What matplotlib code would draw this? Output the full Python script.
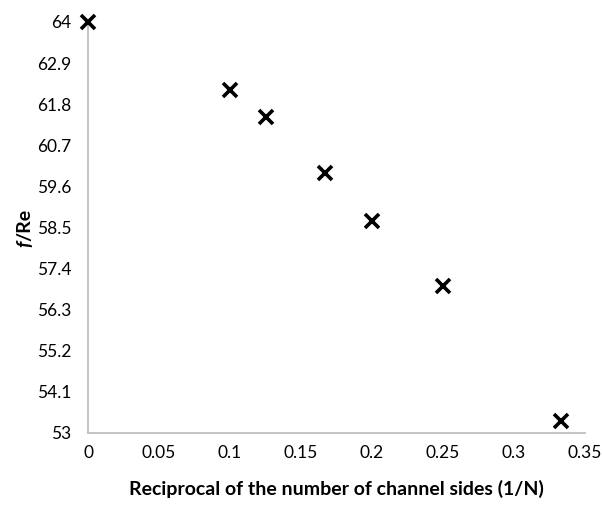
import matplotlib
matplotlib.use("Agg")
import matplotlib.pyplot as plt
import numpy as np

plt.rcParams['font.family'] = ['Lato', 'DejaVu Sans']

x_vals = [0.0, 0.1, 0.125, 1/6, 0.2, 0.25, 1/3]
y_vals = [64.0, 62.18, 61.46, 59.96, 58.67, 56.93, 53.32]
x_ticks = [0, 0.05, 0.1, 0.15, 0.2, 0.25, 0.3, 0.35]
x_tick_labels = ['0', '0.05', '0.1', '0.15', '0.2', '0.25', '0.3', '0.35']
y_ticks = [53, 54.1, 55.2, 56.3, 57.4, 58.5, 59.6, 60.7, 61.8, 62.9, 64]
y_tick_labels = ['53', '54.1', '55.2', '56.3', '57.4', '58.5', '59.6', '60.7', '61.8', '62.9', '64']

fig = plt.figure(figsize=(6.03, 5.07), dpi=100)
ax = fig.add_axes([88/603, 1-433/507, (585-88)/603, (433-22)/507])
ax.plot(x_vals, y_vals, linestyle='none', marker='x', markersize=10,
        markeredgewidth=2.6, color='black', clip_on=False, zorder=5)
ax.set_xlim(0, 0.35)
ax.set_ylim(53, 64)
ax.set_xticks(x_ticks)
ax.set_xticklabels(x_tick_labels)
ax.set_yticks(y_ticks)
ax.set_yticklabels(y_tick_labels)
for s in ['top', 'right']:
    ax.spines[s].set_visible(False)
for s in ['left', 'bottom']:
    ax.spines[s].set_color('#BFBFBF')
    ax.spines[s].set_linewidth(1.3)
ax.tick_params(length=0, labelsize=12.5, colors='black')
ax.tick_params(axis='x', pad=9)
ax.tick_params(axis='y', pad=12)
ax.set_xlabel('Reciprocal of the number of channel sides (1/N)', fontsize=14,
              fontweight='bold', labelpad=13)

# y label: italic bold "f" followed by bold "/Re", rotated
H = fig.bbox.height
t1 = ax.text(25/603, 0.5, 'f', transform=fig.transFigure, rotation=90,
             fontsize=14, fontweight='bold', fontstyle='italic',
             ha='center', va='bottom')
fig.canvas.draw()
bb = t1.get_window_extent()
gap = 0
t2 = ax.text(25/603, (bb.y1 + gap) / H, '/Re', transform=fig.transFigure,
             rotation=90, fontsize=14, fontweight='bold', ha='center', va='bottom')
fig.canvas.draw()
bb2 = t2.get_window_extent()
total = bb2.y1 - bb.y0
center_target = (1 - 228/507) * H
shift = center_target - (bb.y0 + total / 2)
t1.set_y((bb.y0 + shift) / H)
t2.set_y((bb.y1 + gap + shift) / H)
fig.savefig('out.png', dpi=100)
